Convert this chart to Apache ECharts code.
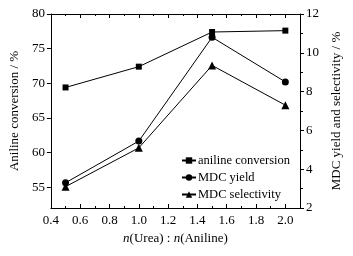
<!DOCTYPE html>
<html>
<head>
<meta charset="utf-8">
<script src="https://cdn.jsdelivr.net/npm/echarts@6/dist/echarts.min.js"></script>
<style>
  html, body { margin: 0; padding: 0; background: #fff; }
  #chart { width: 353px; height: 256px; }
</style>
</head>
<body>
<div id="chart"></div>
<script>
// molar ratio n(Urea):n(Aniline)
var ratios = [0.5, 1.0, 1.5, 2.0];
var anilineConversion = [69.4, 72.4, 77.4, 77.6];
var mdcYield = [3.3, 5.45, 10.8, 8.5];
var mdcSelectivity = [3.1, 5.1, 9.35, 7.3];

var xLabels = [0.4, 0.6, 0.8, 1.0, 1.2, 1.4, 1.6, 1.8, 2.0];
var leftLabels = [55, 60, 65, 70, 75, 80];
var rightLabels = [2, 4, 6, 8, 10, 12];

var FONT = "Liberation Serif";

function pairs(xs, ys) {
  return xs.map(function (x, i) { return [x, ys[i]]; });
}

var chart = echarts.init(document.getElementById("chart"));

var axisLine = { lineStyle: { color: "#000", width: 1 } };
var labelStyle = { color: "#000", fontFamily: FONT, fontSize: 13 };

chart.setOption({
  animation: false,
  grid: { left: 50, right: 53, top: 14, bottom: 48 },
  legend: {
    orient: "vertical",
    left: 176,
    top: 149,
    itemGap: 4,
    itemWidth: 14,
    itemHeight: 8,
    textStyle: { color: "#000", fontFamily: FONT, fontSize: 12.5, padding: [0, 0, 0, -3] },
    data: ["aniline conversion", "MDC yield", "MDC selectivity"],
  },
  xAxis: [
    {
      type: "value",
      min: 0.4,
      max: 2.1,
      interval: 0.2,
      axisLine: axisLine,
      axisTick: { inside: true, length: 4, customValues: xLabels, lineStyle: { color: "#000" } },
      minorTick: { show: true, splitNumber: 2, length: 2, lineStyle: { color: "#000" } },
      axisLabel: Object.assign({
        customValues: xLabels,
        margin: 6,
        formatter: function (v) { return v.toFixed(1); },
      }, labelStyle),
      splitLine: { show: false },
      name: "{i|n}(Urea) : {i|n}(Aniline)",
      nameLocation: "middle",
      nameGap: 22,
      nameTextStyle: {
        color: "#000", fontFamily: FONT, fontSize: 13,
        rich: { i: { fontStyle: "italic", fontFamily: FONT, fontSize: 13, color: "#000" } },
      },
    },
    {
      type: "value",
      position: "top",
      min: 0.4,
      max: 2.1,
      interval: 0.2,
      axisLine: axisLine,
      axisTick: { inside: true, length: 4, customValues: xLabels, lineStyle: { color: "#000" } },
      minorTick: { show: true, splitNumber: 2, length: 2, lineStyle: { color: "#000" } },
      axisLabel: { show: false },
      splitLine: { show: false },
    },
  ],
  yAxis: [
    {
      type: "value",
      min: 52,
      max: 80,
      axisLine: axisLine,
      axisTick: { inside: false, length: 4, customValues: leftLabels, lineStyle: { color: "#000" } },
      axisLabel: Object.assign({ customValues: leftLabels, margin: 6 }, labelStyle),
      splitLine: { show: false },
      name: "Aniline conversion / %",
      nameLocation: "middle",
      nameGap: 21,
      nameTextStyle: { color: "#000", fontFamily: FONT, fontSize: 13 },
    },
    {
      type: "value",
      min: 2,
      max: 12,
      interval: 2,
      position: "right",
      axisLine: axisLine,
      axisTick: { inside: false, length: 4, lineStyle: { color: "#000" } },
      minorTick: { show: true, splitNumber: 2, length: 3, lineStyle: { color: "#000" } },
      axisLabel: Object.assign({ margin: 6 }, labelStyle),
      splitLine: { show: false },
      name: "MDC yield and selectivity / %",
      nameLocation: "middle",
      nameGap: 24,
      nameRotate: 90,
      nameTextStyle: { color: "#000", fontFamily: FONT, fontSize: 13 },
    },
  ],
  series: [
    {
      name: "aniline conversion",
      type: "line",
      yAxisIndex: 0,
      symbol: "rect",
      symbolSize: 6,
      data: pairs(ratios, anilineConversion),
      lineStyle: { color: "#000", width: 1 },
      itemStyle: { color: "#000" },
    },
    {
      name: "MDC yield",
      type: "line",
      yAxisIndex: 1,
      symbol: "circle",
      symbolSize: 7,
      data: pairs(ratios, mdcYield),
      lineStyle: { color: "#000", width: 1 },
      itemStyle: { color: "#000" },
    },
    {
      name: "MDC selectivity",
      type: "line",
      yAxisIndex: 1,
      symbol: "triangle",
      symbolSize: 8,
      data: pairs(ratios, mdcSelectivity),
      lineStyle: { color: "#000", width: 1 },
      itemStyle: { color: "#000" },
    },
  ],
});
</script>
</body>
</html>
